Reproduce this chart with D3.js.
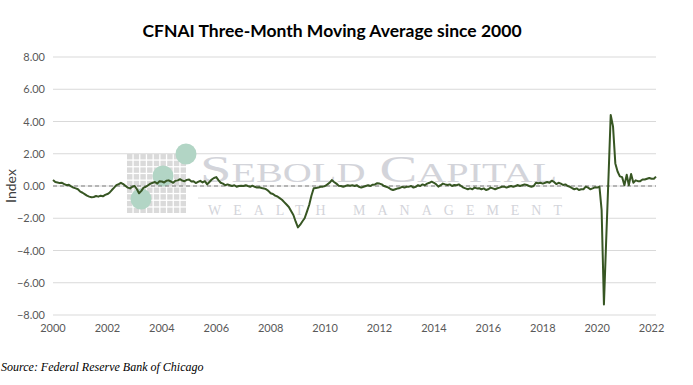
<!DOCTYPE html>
<html>
<head>
<meta charset="utf-8">
<script src="https://cdn.jsdelivr.net/npm/d3@7"></script>
<style>
  body { margin: 0; background: #fff; }
  svg { display: block; }
</style>
</head>
<body>
<script>
// CFNAI three-month moving average, monthly, Jan 2000 - Mar 2022
const startMonth = '2000-01';
const cfnaiMA3 = [
  // 2000
  0.37, 0.25, 0.22, 0.18, 0.20, 0.12, 0.05, 0.08, -0.02, -0.10, -0.15, -0.20,
  // 2001
  -0.35, -0.42, -0.50, -0.60, -0.66, -0.70, -0.68, -0.62, -0.66, -0.60, -0.64, -0.55,
  // 2002
  -0.50, -0.40, -0.25, -0.10, 0.05, 0.12, 0.20, 0.12, 0.00, -0.10, -0.15, -0.05,
  // 2003
  0.00, -0.20, -0.45, -0.30, -0.10, -0.05, 0.05, 0.15, 0.20, 0.25, 0.15, 0.30,
  // 2004
  0.28, 0.22, 0.32, 0.35, 0.28, 0.20, 0.32, 0.35, 0.42, 0.34, 0.30, 0.38,
  // 2005
  0.40, 0.28, 0.30, 0.18, 0.25, 0.32, 0.22, 0.30, 0.10, 0.25, 0.40, 0.50,
  // 2006
  0.55, 0.35, 0.20, 0.15, 0.05, 0.10, 0.05, 0.00, 0.05, -0.05, 0.00, 0.02,
  // 2007
  0.00, 0.05, 0.00, -0.05, 0.02, -0.05, -0.10, -0.08, -0.12, -0.15, -0.20, -0.30,
  // 2008
  -0.45, -0.50, -0.60, -0.65, -0.75, -0.85, -1.00, -1.15, -1.30, -1.55, -1.80, -2.20,
  // 2009
  -2.57, -2.40, -2.20, -2.00, -1.60, -1.18, -0.60, -0.14, -0.12, -0.10, -0.05, -0.04,
  // 2010
  0.00, 0.10, 0.20, 0.37, 0.25, 0.15, 0.02, 0.00, -0.05, 0.00, 0.05, 0.02,
  // 2011
  0.05, 0.00, 0.05, -0.05, -0.10, -0.05, 0.00, 0.05, 0.00, 0.08, 0.10, 0.17,
  // 2012
  0.15, 0.10, 0.00, -0.05, -0.10, -0.20, -0.25, -0.20, -0.15, -0.12, -0.05, -0.10,
  // 2013
  -0.05, -0.04, 0.00, -0.10, -0.05, 0.05, 0.00, 0.10, 0.05, 0.15, 0.20, 0.27,
  // 2014
  0.20, 0.10, -0.04, 0.05, 0.15, 0.10, 0.06, 0.10, 0.00, 0.06, 0.05, 0.10,
  // 2015
  0.00, -0.10, -0.15, -0.20, -0.15, -0.20, -0.10, -0.15, -0.14, -0.20, -0.15, -0.25,
  // 2016
  -0.20, -0.10, -0.15, -0.20, -0.14, -0.10, -0.05, -0.04, -0.10, -0.05, 0.00, -0.05,
  // 2017
  0.00, 0.06, 0.00, 0.05, 0.10, 0.06, 0.00, -0.05, 0.00, 0.20, 0.17, 0.20,
  // 2018
  0.15, 0.20, 0.25, 0.20, 0.33, 0.25, 0.12, 0.20, 0.15, 0.06, 0.10, 0.00,
  // 2019
  -0.05, -0.14, -0.20, -0.15, -0.25, -0.20, -0.20, -0.04, -0.10, -0.20, -0.15, -0.08,
  // 2020
  -0.10, -0.05, -1.50, -7.35, -3.40, 0.50, 4.40, 3.70, 1.40, 0.90, 0.60, 0.55,
  // 2021
  0.05, 0.70, 0.05, 0.75, 0.20, 0.35, 0.30, 0.30, 0.40, 0.40, 0.45, 0.50,
  // 2022
  0.45, 0.45, 0.58
];
const yTicks = [8, 6, 4, 2, 0, -2, -4, -6, -8];
const xTickYears = [2000, 2002, 2004, 2006, 2008, 2010, 2012, 2014, 2016, 2018, 2020, 2022];

const width = 693, height = 385;
const plot = {left: 53, right: 656, top: 57, bottom: 315};

const parseMonth = d3.timeParse('%Y-%m');
const t0 = parseMonth(startMonth);
const data = cfnaiMA3.map((v, i) => ({date: d3.timeMonth.offset(t0, i), value: v}));

const x = d3.scaleTime()
  .domain([t0, data[data.length - 1].date])
  .range([plot.left, plot.right]);
const y = d3.scaleLinear()
  .domain([-8, 8])
  .range([plot.bottom, plot.top]);

const svg = d3.select(document.body).append('svg')
  .attr('width', width)
  .attr('height', height);

svg.append('rect')
  .attr('width', width)
  .attr('height', height)
  .attr('fill', '#fff');

const labelFont = 'Lato, "Open Sans", sans-serif';

// gridlines
svg.append('g')
  .selectAll('line')
  .data(yTicks)
  .enter().append('line')
  .attr('x1', plot.left)
  .attr('x2', plot.right)
  .attr('y1', d => y(d))
  .attr('y2', d => y(d))
  .attr('stroke', '#d9d9d9')
  .attr('stroke-width', 1);

// watermark logo
const wm = svg.append('g').attr('class', 'watermark');
const cells = d3.range(81).map(i => ({c: i % 9, r: Math.floor(i / 9)}));
wm.selectAll('rect')
  .data(cells)
  .enter().append('rect')
  .attr('x', d => 127 + d.c * 6.7)
  .attr('y', d => 154 + d.r * 6.7)
  .attr('width', 5.4)
  .attr('height', 5.4)
  .attr('fill', '#dadada');

wm.selectAll('circle')
  .data([[141, 199], [163, 176], [186, 154]])
  .enter().append('circle')
  .attr('cx', d => d[0])
  .attr('cy', d => d[1])
  .attr('r', 10.5)
  .attr('fill', '#b2d5c5');

wm.append('text')
  .attr('x', 200)
  .attr('y', 182)
  .attr('textLength', 357)
  .attr('lengthAdjust', 'spacingAndGlyphs')
  .style('font-family', '"Liberation Serif", "DejaVu Serif", serif')
  .style('font-size', '38px')
  .style('font-variant', 'small-caps')
  .attr('fill', '#d3d4da')
  .text('Sebold Capital');

wm.append('line')
  .attr('x1', 198)
  .attr('x2', 562)
  .attr('y1', 198)
  .attr('y2', 198)
  .attr('stroke', '#dcdcdc');

wm.append('text')
  .attr('x', 208)
  .attr('y', 215)
  .attr('textLength', 354)
  .attr('lengthAdjust', 'spacing')
  .style('font-family', '"Liberation Serif", "DejaVu Serif", serif')
  .style('font-size', '14px')
  .attr('fill', '#d3d4da')
  .text('WEALTH MANAGEMENT');

// zero line
svg.append('line')
  .attr('x1', plot.left)
  .attr('x2', plot.right)
  .attr('y1', y(0))
  .attr('y2', y(0))
  .attr('stroke', '#7f7f7f')
  .attr('stroke-width', 1.2)
  .attr('stroke-dasharray', '4,3');

// data line
const line = d3.line()
  .x(d => x(d.date))
  .y(d => y(d.value));

svg.append('path')
  .datum(data)
  .attr('fill', 'none')
  .attr('stroke', '#375623')
  .attr('stroke-width', 2)
  .attr('stroke-linejoin', 'round')
  .attr('d', line);

// y axis labels
svg.append('g')
  .selectAll('text')
  .data(yTicks)
  .enter().append('text')
  .attr('x', 45)
  .attr('y', d => y(d) + 4)
  .attr('text-anchor', 'end')
  .style('font-family', labelFont)
  .style('font-size', '11px')
  .attr('fill', '#595959')
  .text(d => d3.format('.2f')(d));

// x axis labels
svg.append('g')
  .selectAll('text')
  .data(xTickYears)
  .enter().append('text')
  .attr('x', d => x(new Date(d, 0, 1)))
  .attr('y', 332)
  .attr('text-anchor', 'middle')
  .style('font-family', labelFont)
  .style('font-size', '11px')
  .attr('fill', '#595959')
  .text(d => d);

// axis title
svg.append('text')
  .attr('transform', 'translate(16,186) rotate(-90)')
  .attr('text-anchor', 'middle')
  .style('font-family', labelFont)
  .style('font-size', '14px')
  .attr('fill', '#404040')
  .text('Index');

// title
svg.append('text')
  .attr('x', 332)
  .attr('y', 37)
  .attr('text-anchor', 'middle')
  .style('font-family', labelFont)
  .style('font-size', '17.5px')
  .style('font-weight', 'bold')
  .attr('fill', '#000')
  .text('CFNAI Three-Month Moving Average since 2000');

// source
svg.append('text')
  .attr('x', 1)
  .attr('y', 371)
  .style('font-family', '"Liberation Serif", "DejaVu Serif", serif')
  .style('font-size', '12px')
  .style('font-style', 'italic')
  .attr('fill', '#000')
  .text('Source: Federal Reserve Bank of Chicago');
</script>
</body>
</html>
